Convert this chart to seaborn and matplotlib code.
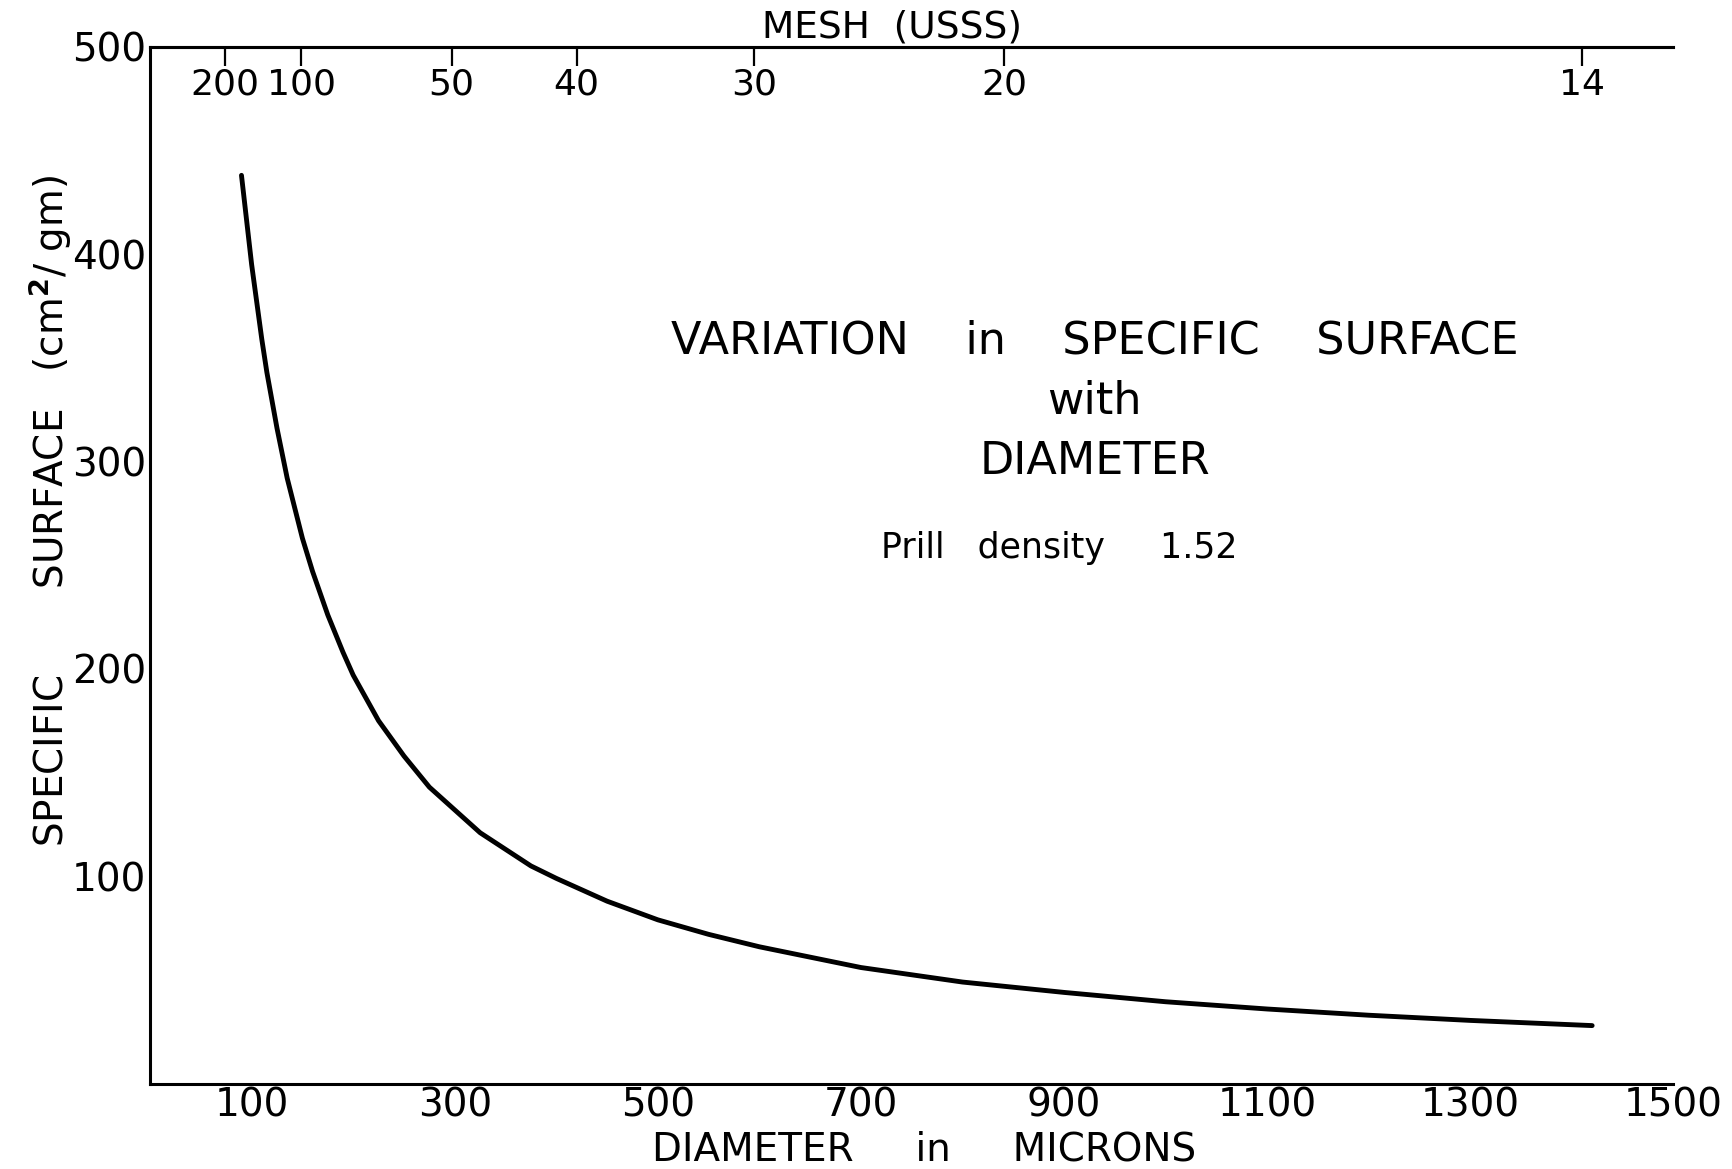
import matplotlib
matplotlib.use("Agg")
import matplotlib.pyplot as plt
import seaborn as sns
import pandas as pd

# diameter (microns) vs specific surface (cm2/gm)
diameter = [90, 100, 110, 115, 125, 135, 150, 160, 175, 190, 200, 225, 250,
            275, 300, 325, 350, 375, 400, 450, 500, 550, 600, 650, 700, 750,
            800, 900, 1000, 1100, 1200, 1300, 1420]
surface = [438, 395, 359, 343, 316, 292, 263, 247, 226, 208, 197, 175, 158,
           143, 132, 121, 113, 105, 99, 88, 79, 72, 66, 61, 56, 52.5,
           49, 44, 39.5, 36, 33, 30.5, 28]

# top axis: sieve mesh (USSS) and its opening in microns
mesh_labels = ["200", "100", "50", "40", "30", "20", "14"]
mesh_microns = [74, 149, 297, 420, 595, 841, 1410]

x_ticks = [100, 300, 500, 700, 900, 1100, 1300, 1500]
y_ticks = [100, 200, 300, 400, 500]

df = pd.DataFrame({"diameter": diameter, "surface": surface})

sns.set_style("white")
plt.rcParams["font.family"] = ["DejaVu Sans"]
plt.rcParams["text.color"] = "black"
plt.rcParams["axes.labelcolor"] = "black"

fig = plt.figure(figsize=(17.33, 11.69), dpi=100)
ax = fig.add_axes([0.0866, 0.073, 0.879, 0.887])

sns.lineplot(data=df, x="diameter", y="surface", color="black", linewidth=3.5, ax=ax)

ax.set_xlim(0, 1500)
ax.set_ylim(0, 500)
ax.set_xticks(x_ticks)
ax.set_yticks(y_ticks)
ax.tick_params(axis="both", direction="in", length=15, width=2, labelsize=28, colors="black")
ax.tick_params(axis="y", pad=3)
ax.tick_params(axis="x", pad=2)
ax.spines["right"].set_visible(False)
for s in ["left", "bottom", "top"]:
    ax.spines[s].set_linewidth(2.2)
    ax.spines[s].set_color("black")

ax.set_xlabel("DIAMETER     in     MICRONS", fontsize=28, labelpad=0)
ax.xaxis.set_label_coords(0.508, -0.045)
ax.set_ylabel("SPECIFIC       SURFACE   (cm$^{\\mathbf{2}}$/ gm)", fontsize=28, labelpad=0)
ax.yaxis.set_label_coords(-0.050, 0.552)

sec = ax.secondary_xaxis("top")
sec.set_xticks(mesh_microns, labels=mesh_labels)
sec.tick_params(direction="in", length=14, width=1.6, labelsize=26, pad=-15, colors="black")
for lbl in sec.get_xticklabels():
    lbl.set_va("top")
sec.spines["top"].set_linewidth(2.2)
sec.set_xlabel("MESH  (USSS)", fontsize=27, labelpad=7, x=0.487)

ax.text(0.62, 0.658, "VARIATION    in    SPECIFIC    SURFACE\nwith\nDIAMETER",
        transform=ax.transAxes, ha="center", va="center", fontsize=32,
        linespacing=1.5)
ax.text(0.597, 0.517, "Prill   density     1.52", transform=ax.transAxes,
        ha="center", va="center", fontsize=25)

fig.savefig("out.png", dpi=100, facecolor="white")
